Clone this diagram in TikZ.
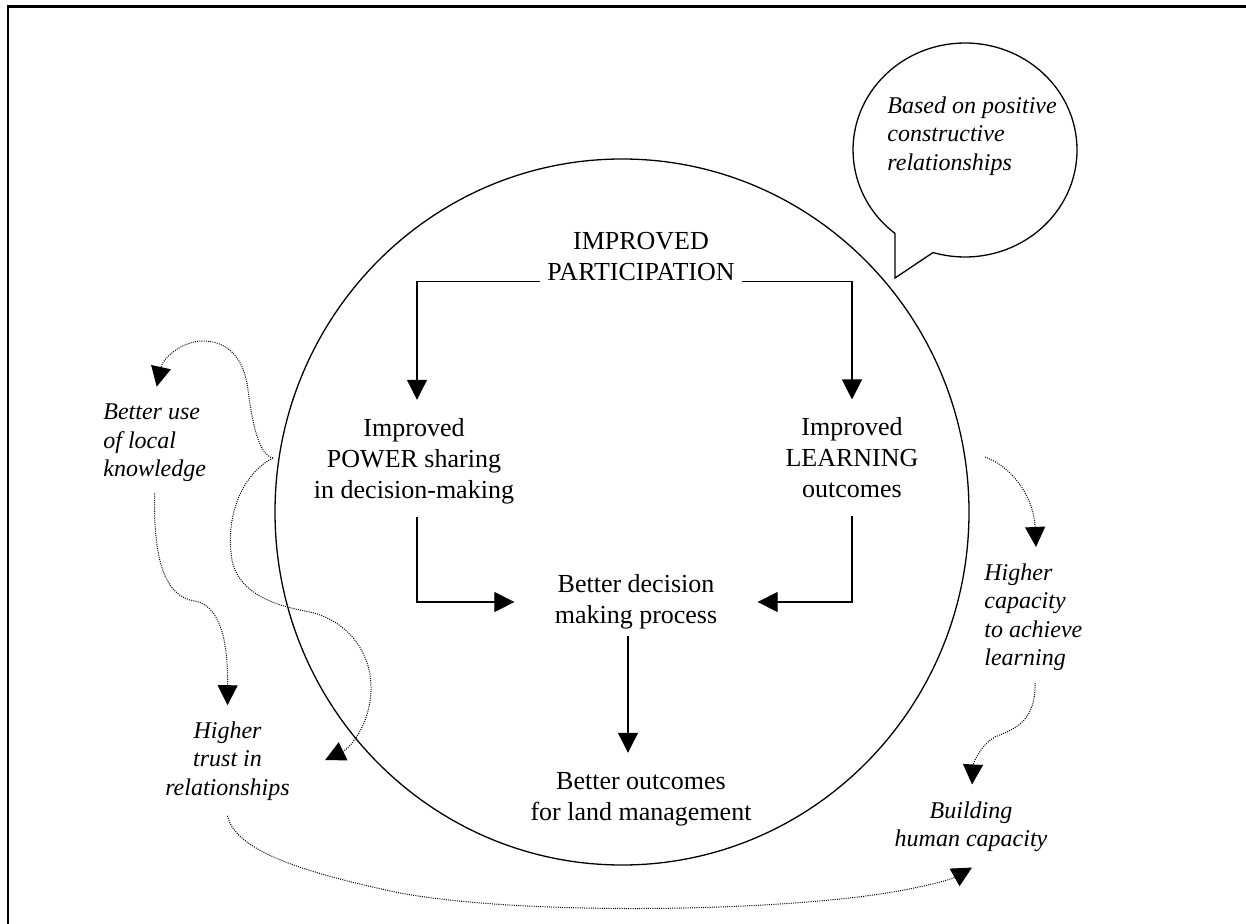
\documentclass[tikz,border=0pt]{standalone}
\usepackage{fontspec}
\setmainfont{Liberation Serif}
\usetikzlibrary{arrows.meta,calc}
\begin{document}
\begin{tikzpicture}[x=0.5pt,y=-0.5pt,
  txt/.style={font=\fontsize{13}{15.5}\selectfont, align=center, inner sep=0pt},
  itx/.style={font=\fontsize{12}{14.25}\selectfont\itshape, inner sep=0pt},
  arr/.style={line width=0.6pt, -{Triangle[width=10pt,length=10pt]}},
  dotarr/.style={line width=0.5pt, dash pattern=on 0.5pt off 0.6pt, -{Triangle[width=10pt,length=10pt]}},
  shape line/.style={line width=0.65pt}
]
\useasboundingbox (0,0) rectangle (1246,924);
% frame (cropped on the right and bottom)
\draw[line width=1.2pt] (8,924) -- (8,6.5) -- (1246,6.5);
% big circle
\draw[shape line] (622,512) ellipse [x radius=347, y radius=353];
% callout bubble
\draw[shape line] (895,278) -- (895,233.5) arc[start angle=128.7, end angle=466.6, x radius=112, y radius=107] -- cycle;

% text nodes
\node[txt] (part) at (641,257) {IMPROVED\\PARTICIPATION};
\node[txt] (power) at (414,461) {Improved\\POWER sharing\\in decision-making};
\node[txt] (learn) at (852,458) {Improved\\LEARNING\\outcomes};
\node[txt] (dec) at (636,602) {Better decision\\making process};
\node[txt] (out) at (641,799) {Better outcomes\\for land management};
\node[itx, align=left, anchor=west] (bubbletext) at (887,136) {Based on positive\\constructive\\relationships};
\node[itx, align=left, anchor=west] (use) at (103,443) {Better use\\of local\\knowledge};
\node[itx, align=center] (trust) at (227.5,761) {Higher\\trust in\\relationships};
\node[itx, align=left, anchor=west] (cap) at (984,617) {Higher\\capacity\\to achieve\\learning};
\node[itx, align=center] (build) at (971,827) {Building\\human capacity};

% solid arrows
\draw[arr] ($(part.south west)+(-7,0)$) -| ($(power.north)+(3,-18)$);
\draw[arr] ($(part.south east)+(7,0)$) -| ($(learn.north)+(0,-18)$);
\draw[arr] ($(power.south)+(3,13)$) |- ($(dec.west)+(-40,0)$);
\draw[arr] ($(learn.south)+(0,17)$) |- ($(dec.east)+(40,0)$);
\coordinate (dtop) at ($(dec.south)+(-8,6)$);
\draw[arr] (dtop) -- ($(dtop |- out.north)+(0,-19)$);

% dotted arrows
\coordinate (J) at (273,458);
\coordinate (R) at (985,457);
\draw[dotarr] (J) .. controls (258,455) and (252,420) .. (248,390)
  .. controls (244,355) and (225,341) .. (203,341)
  .. controls (182,341) and (163,358) .. ($(use.north)+(2,-17)$);
\draw[dotarr] (J) .. controls (240,475) and (225,520) .. (232,560)
  .. controls (240,600) and (290,608) .. (310,612)
  .. controls (345,620) and (372,650) .. (371,690)
  .. controls (370,725) and (350,748) .. ($(trust.east)+(35,-1)$);
\draw[dotarr] ($(use.south)+(0,11)$) .. controls (153,560) and (165,597) .. (195,601)
  .. controls (220,606) and (228,640) .. ($(trust.north)+(0,-16)$);
\draw[dotarr] (R) .. controls (1015,468) and (1034,500) .. ($(cap.north west)+(52,-16)$);
\draw[dotarr] ($(cap.south west)+(51,12)$) .. controls (1036,725) and (1010,730) .. (995,737)
  .. controls (980,745) and (973,765) .. ($(build.north)+(1,-17)$);
\draw[dotarr] ($(trust.south)+(0,15)$) .. controls (235,850) and (300,872) .. (400,893)
  .. controls (520,915) and (760,912) .. (880,894)
  .. controls (920,888) and (950,880) .. ($(build.south)+(1,15)$);
\end{tikzpicture}
\end{document}
